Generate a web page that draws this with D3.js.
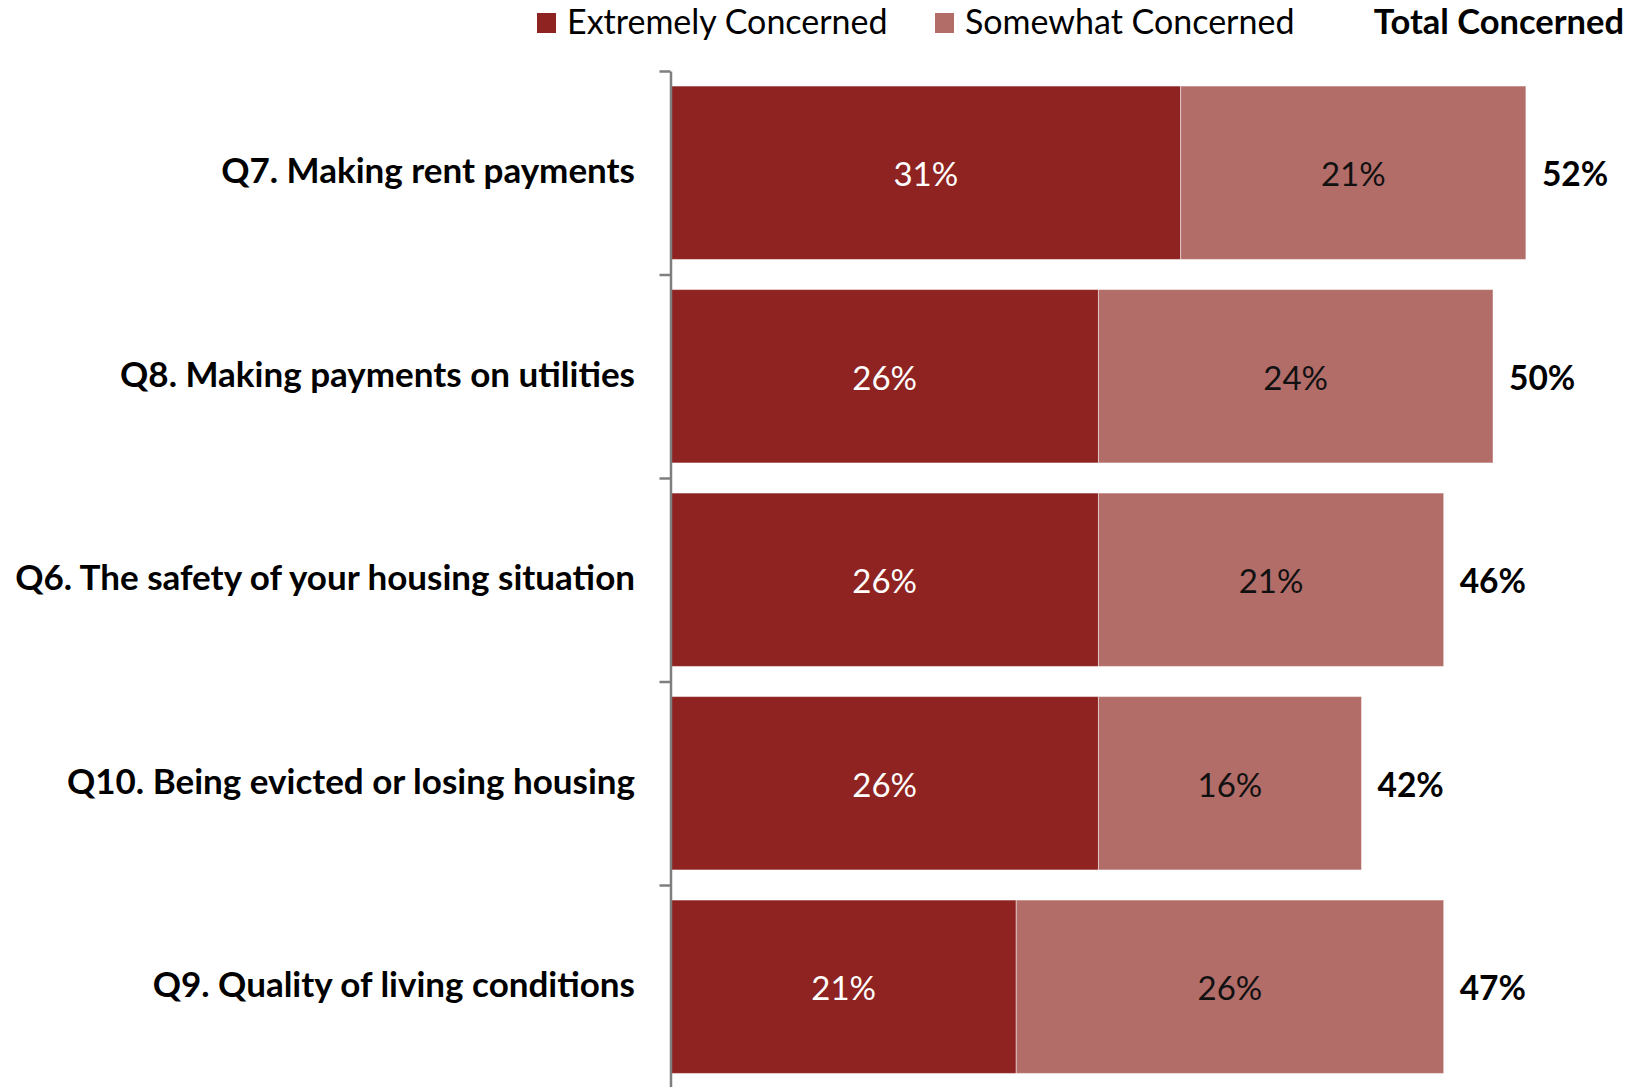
<!DOCTYPE html>
<html>
<head>
<meta charset="utf-8">
<script src="https://cdn.jsdelivr.net/npm/d3@7"></script>
<style>
  html, body { margin: 0; padding: 0; background: #fff; }
  svg { display: block; }
  text { font-family: Lato, "Open Sans", sans-serif; }
</style>
</head>
<body>
<svg id="chart" width="1629" height="1087"></svg>
<script>
// Housing concerns, top to bottom
const categories = [
  "Q7. Making rent payments",
  "Q8. Making payments on utilities",
  "Q6. The safety of your housing situation",
  "Q10. Being evicted or losing housing",
  "Q9. Quality of living conditions"
];
const extremely = [31, 26, 26, 26, 21];
const somewhat  = [21, 24, 21, 16, 26];
const totals    = [52, 50, 46, 42, 47];
const seriesNames = ["Extremely Concerned", "Somewhat Concerned"];
const totalTitle = "Total Concerned";

const colors = ["#8E2321", "#B36D69"];

const svg = d3.select("#chart");

const plotLeft = 671, plotTop = 71, plotBottom = 1088.5;
const pxPerPct = 16.44;

const x = d3.scaleLinear().domain([0, 52]).range([plotLeft, plotLeft + 52 * pxPerPct]);
const y = d3.scaleBand().domain(categories).range([plotTop, plotBottom]).paddingInner(0.148).paddingOuter(0.074);

// stacked layout
const rows = categories.map((c, i) => ({ cat: c, extremely: extremely[i], somewhat: somewhat[i], total: totals[i] }));
const stack = d3.stack().keys(["extremely", "somewhat"]);
const layers = stack(rows);

const g = svg.append("g");
layers.forEach((layer, li) => {
  g.selectAll(null)
    .data(layer)
    .enter()
    .append("rect")
    .attr("x", d => x(d[0]))
    .attr("y", d => y(d.data.cat))
    .attr("width", d => x(d[1]) - x(d[0]))
    .attr("height", y.bandwidth())
    .attr("fill", colors[li])
    .attr("stroke", "#fff")
    .attr("stroke-opacity", 0.45)
    .attr("stroke-width", 1);

  g.selectAll(null)
    .data(layer)
    .enter()
    .append("text")
    .attr("x", d => (x(d[0]) + x(d[1])) / 2)
    .attr("y", d => y(d.data.cat) + y.bandwidth() / 2 + 2)
    .attr("dy", "0.35em")
    .attr("text-anchor", "middle")
    .attr("font-size", 33)
    .attr("fill", li === 0 ? "#ffffff" : "#111111")
    .text(d => (d[1] - d[0]) + "%");
});

// totals at bar ends
g.selectAll(null)
  .data(rows)
  .enter()
  .append("text")
  .attr("x", d => x(d.extremely + d.somewhat) + 16)
  .attr("y", d => y(d.cat) + y.bandwidth() / 2 + 2)
  .attr("dy", "0.35em")
  .attr("font-size", 33.5)
  .attr("font-weight", "bold")
  .attr("fill", "#000")
  .text(d => d.total + "%");

// category axis: ticks sit on band boundaries
const yEdge = d3.scaleLinear().domain([0, categories.length]).range([plotTop, plotBottom]);
const axis = svg.append("g")
  .attr("transform", `translate(${plotLeft - 0.5},0)`)
  .call(d3.axisLeft(yEdge).ticks(categories.length).tickSize(11).tickSizeOuter(0).tickFormat(""));
axis.selectAll("path, line").attr("stroke", "#7F7F7F").attr("stroke-width", 2.5);

// category labels
svg.append("g")
  .selectAll("text")
  .data(categories)
  .enter()
  .append("text")
  .attr("x", 635)
  .attr("y", d => y(d) + y.bandwidth() / 2 - 2)
  .attr("dy", "0.35em")
  .attr("text-anchor", "end")
  .attr("font-size", 35)
  .attr("font-weight", "bold")
  .attr("fill", "#000")
  .text(d => d);

// legend
const legend = svg.append("g");
const legendX = [537, 935];
seriesNames.forEach((name, i) => {
  legend.append("rect")
    .attr("x", legendX[i]).attr("y", 13)
    .attr("width", 19).attr("height", 20)
    .attr("fill", colors[i]);
  legend.append("text")
    .attr("x", legendX[i] + 30).attr("y", 34)
    .attr("font-size", 34)
    .attr("fill", "#000")
    .text(name);
});
legend.append("text")
  .attr("x", 1624).attr("y", 34)
  .attr("text-anchor", "end")
  .attr("font-size", 34.5)
  .attr("font-weight", "bold")
  .attr("fill", "#000")
  .text(totalTitle);
</script>
</body>
</html>
